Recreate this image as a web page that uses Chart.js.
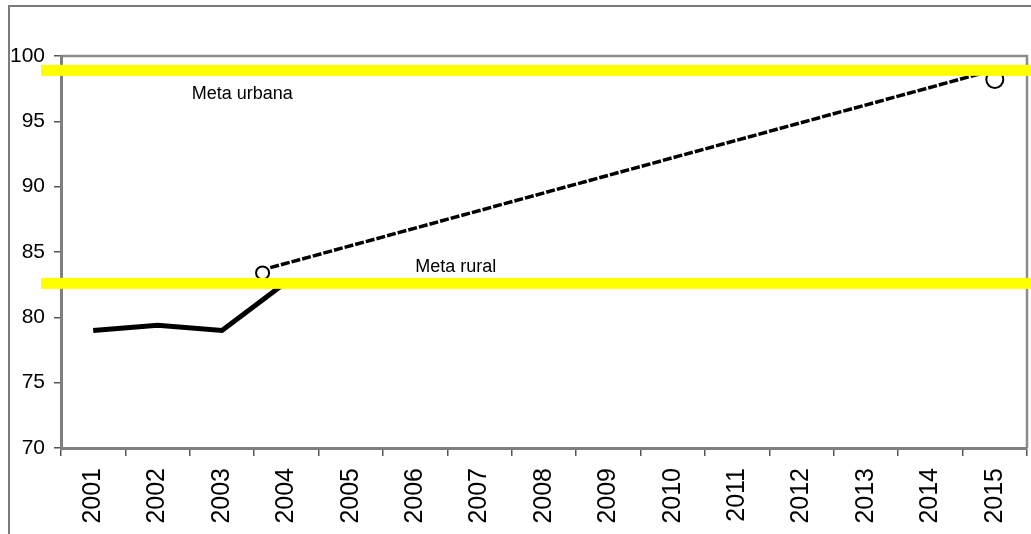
<!DOCTYPE html>
<html>
<head>
<meta charset="utf-8">
<script src="https://cdn.jsdelivr.net/npm/chart.js@4"></script>
<style>
  html, body { margin: 0; padding: 0; background: #fff; }
  #wrap { width: 1031px; height: 534px; }
</style>
</head>
<body>
<div id="wrap"><canvas id="myChart"></canvas></div>
<script>
// Datos
const years = ['2001', '2002', '2003', '2004', '2005', '2006', '2007', '2008',
               '2009', '2010', '2011', '2012', '2013', '2014', '2015'];
const observed = [79.0, 79.4, 79.0, 82.7, null, null, null, null,
                  null, null, null, null, null, null, null];
// Proyeccion (tramo punteado) en años decimales
const projYears = [2003.75, 2014.89];
const projValues = [83.8, 98.8];
// Circulos de referencia
const markerYears = [2003.63, 2015.0];
const markerValues = [83.4, 98.2];
// Metas
const goalNames = ['Meta urbana', 'Meta rural'];
const goalValues = [98.9, 82.6];
const yTicks = [70, 75, 80, 85, 90, 95, 100];

const FONT = '"Liberation Sans", Arial, sans-serif';

// Marco exterior, borde del area y lineas de meta
const decor = {
  id: 'decor',
  beforeDraw(chart) {
    const c = chart.ctx, w = chart.width, h = chart.height;
    c.save();
    c.strokeStyle = '#7a7a7a';
    c.lineWidth = 2;
    c.beginPath();
    c.moveTo(9, h);
    c.lineTo(9, 6);
    c.lineTo(w, 6);
    c.stroke();
    const a = chart.chartArea;
    c.strokeStyle = '#8c8c8c';
    c.lineWidth = 2.5;
    c.beginPath();
    c.moveTo(a.left, a.top);
    c.lineTo(a.right, a.top);
    c.lineTo(a.right, a.bottom);
    c.stroke();
    c.restore();
  },
  afterDatasetsDraw(chart, args, opts) {
    const c = chart.ctx, y = chart.scales.y, a = chart.chartArea;
    c.save();
    c.fillStyle = '#ffff00';
    goalValues.forEach((v, i) => {
      const py = y.getPixelForValue(v);
      c.fillRect(a.left - 20, py - 5.5, chart.width - a.left + 20, 11);
    });
    c.fillStyle = '#000';
    c.font = '18px ' + FONT;
    c.textAlign = 'left';
    c.textBaseline = 'alphabetic';
    goalNames.forEach((t, i) => {
      const py = y.getPixelForValue(goalValues[i]);
      const xp = chart.scales.xp.getPixelForValue(opts.labelYears[i]);
      c.fillText(t, xp, py + opts.labelOffsets[i]);
    });
    c.restore();
  }
};

let ctx = document.getElementById('myChart');
let chart = new Chart(ctx, {
  type: 'line',
  data: {
    labels: years,
    datasets: [
      {
        data: observed,
        borderColor: '#000',
        borderWidth: 5,
        pointRadius: 0,
        tension: 0,
        order: 3
      },
      {
        data: projYears.map((x, i) => ({ x: x, y: projValues[i] })),
        xAxisID: 'xp',
        borderColor: '#000',
        borderWidth: 3.5,
        borderDash: [9, 2],
        pointRadius: 0,
        order: 2
      },
      {
        data: markerYears.map((x, i) => ({ x: x, y: markerValues[i] })),
        xAxisID: 'xp',
        showLine: false,
        pointRadius: [6.5, 8.5],
        pointBorderWidth: 2,
        pointBorderColor: '#000',
        pointBackgroundColor: '#fff',
        order: 1
      }
    ]
  },
  options: {
    responsive: true,
    maintainAspectRatio: false,
    animation: false,
    layout: {
      autoPadding: false,
      padding: { top: 56, right: 4, left: 0, bottom: 0 }
    },
    plugins: {
      legend: { display: false },
      tooltip: { enabled: false },
      decor: {
        labelYears: [2002.53, 2006.0],
        labelOffsets: [29, -11.5]
      }
    },
    scales: {
      x: {
        type: 'category',
        offset: true,
        grid: {
          offset: true,
          drawOnChartArea: false,
          tickLength: 8,
          color: '#555',
          lineWidth: 1.5
        },
        border: { color: '#7f7f7f', width: 3 },
        ticks: {
          autoSkip: false,
          minRotation: 90,
          maxRotation: 90,
          padding: 12,
          color: '#000',
          font: { family: FONT, size: 25 }
        },
        afterFit(s) {
          s.height = 86;
          s.paddingLeft = 0;
          s.paddingRight = 0;
        }
      },
      xp: {
        type: 'linear',
        display: false,
        min: 2000.5,
        max: 2015.5
      },
      y: {
        min: 70,
        max: 100,
        afterBuildTicks(s) { s.ticks = yTicks.map(v => ({ value: v })); },
        grid: {
          drawOnChartArea: false,
          tickLength: 7,
          color: '#555',
          lineWidth: 1.5
        },
        border: { color: '#7f7f7f', width: 3 },
        ticks: {
          padding: 9,
          color: '#000',
          font: { family: FONT, size: 21 }
        },
        afterFit(s) {
          s.width = 61;
          s.paddingTop = 0;
          s.paddingBottom = 0;
        }
      }
    }
  },
  plugins: [decor]
});
</script>
</body>
</html>
